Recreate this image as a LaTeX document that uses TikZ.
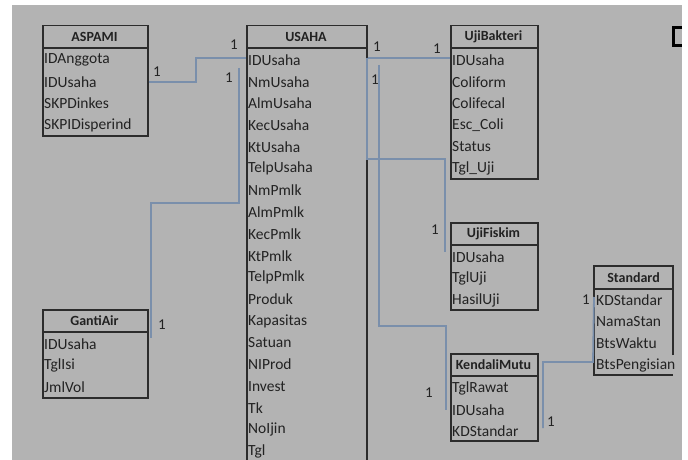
\documentclass[tikz,border=0pt]{standalone}
\usepackage{fontspec}
\setmainfont{Carlito}
\definecolor{bggray}{HTML}{B3B3B3}
\definecolor{ink}{HTML}{222222}
\definecolor{boxline}{HTML}{2C2C2C}
\definecolor{connc}{HTML}{7A8FAB}
\tikzset{
  tbox/.style={draw=boxline, line width=1.5pt, inner sep=0pt},
  tline/.style={draw=boxline, line width=1.5pt},
  thead/.style={font=\bfseries\fontsize{14}{15}\selectfont, text=ink, inner sep=0pt},
  trow/.style={font=\fontsize{15.5}{16}\selectfont, text=ink, inner sep=0pt, anchor=west},
  conn/.style={draw=connc, line width=1.8pt},
  card/.style={font=\fontsize{15}{16}\selectfont, text=ink, inner sep=0pt}
}
\newcommand{\ertab}[7]{%
  \node[tbox, minimum width=#4, minimum height=#5, anchor=north west] (#1) at (#2,#3) {};
  \draw[tline] (#2,#3+23) -- (#2+#4,#3+23);
  \node[thead] (#1-h) at (#2+#4/2,#3+11.5) {#6};
  \foreach \t [count=\i] in {#7} \node[trow] (#1-\i) at (#2+2,#3+35+\i*21.75-21.75) {\t};
}
\begin{document}
\begin{tikzpicture}[x=1pt,y=-1pt]
\useasboundingbox (0,0) rectangle (688,460);
\fill[white] (0,0) rectangle (688,460);
\fill[bggray] (12,5) rectangle (682,460);
% tables
\ertab{aspami}{42}{25}{105}{110}{ASPAMI}{IDAnggota,IDUsaha,SKPDinkes,SKPIDisperind}
\ertab{usaha}{246}{25}{120}{445}{USAHA}{IDUsaha,NmUsaha,AlmUsaha,KecUsaha,KtUsaha,TelpUsaha,NmPmlk,AlmPmlk,KecPmlk,KtPmlk,TelpPmlk,Produk,Kapasitas,Satuan,NIProd,Invest,Tk,NoIjin,Tgl}
\ertab{bakteri}{450}{25}{87}{153}{UjiBakteri}{IDUsaha,Coliform,Colifecal,Esc\_Coli,Status,Tgl\_Uji}
\ertab{fiskim}{450}{222}{87}{87}{UjiFiskim}{IDUsaha,TglUji,HasilUji}
\ertab{kendali}{450}{353}{87}{87}{KendaliMutu}{TglRawat,IDUsaha,KDStandar}
\ertab{ganti}{42}{309}{105}{88}{GantiAir}{IDUsaha,TglIsi,JmlVol}
% Standard (right border partly hidden by text)
\node[inner sep=0pt, minimum width=79, minimum height=109, anchor=north west] (standard) at (594,266) {};
\draw[tline] (673,355) -- (673,266) -- (594,266) -- (594,375) -- (673,375);
\draw[tline] (594,289) -- (673,289);
\node[thead] (standard-h) at (633.5,277.5) {Standard};
\foreach \t [count=\i] in {KDStandar,NamaStan,BtsWaktu,BtsPengisian}
  \node[trow] (standard-\i) at (596,300+\i*21.75-21.75) {\t};
% connectors
\draw[conn] (aspami.east |- 0,82) -| (196,58) -- (usaha.west |- 0,58);
\coordinate (g1) at (239,68);
\coordinate (g2) at (151,338);
\draw[conn] (g1) |- (151,203) -- (g2);
\draw[conn] (usaha.east |- 0,58) -- (bakteri.west |- 0,58);
\coordinate (f1) at (367,58);
\coordinate (f2) at (445,252);
\draw[conn] (f1) |- (445,159) -- (f2);
\coordinate (k1) at (379,65);
\coordinate (k2) at (446,410);
\draw[conn] (k1) |- (446,326) -- (k2);
\coordinate (s1) at (543,428);
\draw[conn] (s1) |- (593,362) -- (standard.west |- 0,297);
% cardinality labels
\node[card] (l1) at (157,72) {1};
\node[card] (l2) at (234,45) {1};
\node[card] (l3) at (229,78) {1};
\node[card] (l4) at (162,325) {1};
\node[card] (l5) at (377,47) {1};
\node[card] (l6) at (437,49) {1};
\node[card] (l7) at (375,80) {1};
\node[card] (l8) at (435,230) {1};
\node[card] (l9) at (429,393) {1};
\node[card] (l10) at (551,422) {1};
\node[card] (l11) at (586,300) {1};
% partial black box at top right
\draw[black, line width=3pt] (682,28) -- (673,28) -- (673,46) -- (682,46);
\end{tikzpicture}
\end{document}
